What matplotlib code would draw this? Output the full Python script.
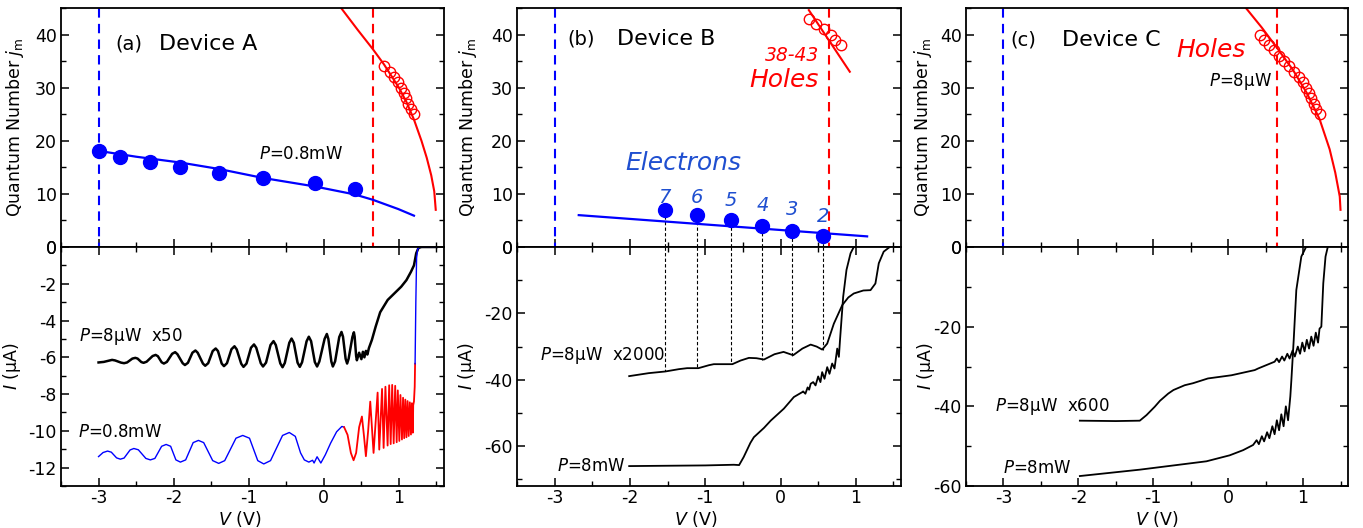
import matplotlib
matplotlib.use("Agg")
import matplotlib.pyplot as plt
from matplotlib.ticker import MultipleLocator

# ---------------- data ----------------
# Panel (a) top
a_dot_v = [-3.00, -2.72, -2.32, -1.92, -1.40, -0.81, -0.12, 0.41]
a_dot_j = [18, 17, 16, 15, 14, 13, 12, 11]
a_hole_v = [0.80, 0.88, 0.94, 0.99, 1.03, 1.07, 1.10, 1.12, 1.16, 1.20]
a_hole_j = [34, 33, 32, 31, 30, 29, 28, 27, 26, 25]
a_efit_v = [-3.0, -2.5, -1.91, -1.4, -0.81, -0.12, 0.41, 0.65, 0.99, 1.2]
a_efit_j = [18.1, 17.0, 15.9, 14.7, 13.0, 11.4, 9.9, 8.9, 7.15, 5.9]
a_hfit_v = [0.23, 0.45, 0.65, 0.80, 1.0, 1.1, 1.2, 1.3, 1.37, 1.43, 1.47, 1.49]
a_hfit_j = [45.0, 40.9, 37.3, 34.4, 30.0, 27.3, 24.0, 20.0, 16.8, 13.5, 10.5, 7.0]
a_vlines = [-3.0, 0.65]

# Panel (a) bottom: P=8uW x50 (black)
a_low_v = [-3.00, -2.93, -2.82, -2.78, -2.70, -2.66, -2.62, -2.55, -2.51, -2.48,
           -2.43, -2.40, -2.36, -2.28, -2.24, -2.21, -2.16, -2.13, -2.09, -2.02,
           -1.98, -1.95, -1.88, -1.85, -1.81, -1.75, -1.71, -1.68, -1.61, -1.58,
           -1.54, -1.48, -1.44, -1.41, -1.36, -1.33, -1.29, -1.23, -1.19, -1.16,
           -1.10, -1.07, -1.03, -0.97, -0.93, -0.90, -0.84, -0.81, -0.77, -0.71,
           -0.67, -0.64, -0.58, -0.55, -0.52, -0.46, -0.43, -0.40, -0.35, -0.32,
           -0.29, -0.23, -0.20, -0.17, -0.12, -0.09, -0.06, 0.01, 0.04, 0.06,
           0.10, 0.12, 0.15, 0.205, 0.235, 0.255, 0.29, 0.31, 0.33, 0.38,
           0.40, 0.41, 0.43, 0.44, 0.47, 0.50, 0.52, 0.54, 0.56, 0.58,
           0.60, 0.64, 0.69, 0.75, 0.85, 0.94, 1.03, 1.10, 1.16, 1.20,
           1.23, 1.26, 1.30, 1.50]
a_low_i = [-6.28, -6.25, -6.14, -6.17, -6.29, -6.32, -6.28, -6.07, -6.03, -6.07,
           -6.26, -6.30, -6.24, -5.93, -5.87, -5.94, -6.27, -6.34, -6.25, -5.81,
           -5.72, -5.83, -6.32, -6.42, -6.30, -5.75, -5.63, -5.75, -6.34, -6.46,
           -6.32, -5.66, -5.52, -5.66, -6.34, -6.48, -6.32, -5.56, -5.40, -5.57,
           -6.35, -6.52, -6.34, -5.48, -5.30, -5.48, -6.32, -6.50, -6.29, -5.33,
           -5.12, -5.33, -6.33, -6.54, -6.31, -5.21, -4.98, -5.21, -6.29, -6.52,
           -6.27, -5.13, -4.88, -5.12, -6.26, -6.50, -6.23, -5.00, -4.73, -5.00,
           -6.23, -6.50, -6.22, -4.90, -4.62, -4.88, -6.08, -6.34, -6.08, -4.90,
           -4.64, -4.87, -5.93, -6.16, -5.75, -6.10, -5.70, -6.00, -5.65, -5.85,
           -5.50, -5.05, -4.33, -3.55, -2.88, -2.52, -2.16, -1.80, -1.35, -1.00,
           -0.34, -0.05, 0.0, 0.0]

# Panel (a) bottom: P=0.8mW (blue / red / blue)
a_high_blue_v = [-3.00, -2.94, -2.88, -2.83, -2.76, -2.71, -2.66, -2.58, -2.53, -2.47,
                 -2.37, -2.31, -2.25, -2.16, -2.10, -2.04, -1.97, -1.91, -1.84, -1.74,
                 -1.67, -1.60, -1.48, -1.40, -1.32, -1.17, -1.08, -0.99, -0.88, -0.80,
                 -0.71, -0.55, -0.46, -0.38, -0.31, -0.26, -0.20, -0.15, -0.13, -0.09,
                 -0.04, 0.02, 0.09, 0.17, 0.24, 0.27]
a_high_blue_i = [-11.40, -11.18, -11.10, -11.16, -11.47, -11.54, -11.48, -11.04, -10.96, -11.03,
                 -11.50, -11.58, -11.50, -10.84, -10.74, -10.84, -11.58, -11.70, -11.58, -10.64,
                 -10.52, -10.64, -11.62, -11.77, -11.62, -10.40, -10.25, -10.40, -11.62, -11.80,
                 -11.62, -10.25, -10.09, -10.30, -11.20, -11.58, -11.70, -11.60, -11.75, -11.41,
                 -11.75, -11.30, -10.67, -10.05, -9.76, -9.80]
a_high_red_v = [0.27, 0.316, 0.36, 0.396, 0.43, 0.47, 0.507, 0.535, 0.56, 0.59,
                0.618, 0.64, 0.662, 0.69, 0.716, 0.738, 0.775, 0.796, 0.82, 0.849,
                0.87, 0.89, 0.91, 0.93, 0.95, 0.97, 0.985, 1.005, 1.02, 1.04,
                1.055, 1.07, 1.085, 1.10, 1.115, 1.13, 1.145, 1.16, 1.172, 1.185,
                1.19, 1.20, 1.21, 1.215]
a_high_red_i = [-9.80, -10.22, -11.2, -11.60, -11.2, -9.8, -9.22, -10.3, -11.38, -10.0,
                -8.41, -9.8, -11.2, -9.5, -7.92, -11.02, -7.72, -10.93, -7.60, -10.80,
                -7.52, -10.72, -7.50, -10.68, -7.55, -10.62, -7.80, -10.55, -8.05, -10.47,
                -8.20, -10.40, -8.30, -10.35, -8.38, -10.28, -8.45, -10.20, -8.50, -10.10,
                -8.60, -8.40, -7.60, -6.35]
a_high_end_v = [1.215, 1.225, 1.235, 1.25, 1.28, 1.50]
a_high_end_i = [-6.35, -3.0, -0.6, -0.1, 0.0, 0.0]

# Panel (b) top
b_dot_v = [-1.54, -1.11, -0.66, -0.24, 0.155, 0.56]
b_dot_j = [7, 6, 5, 4, 3, 2]
b_dot_lbl = ["7", "6", "5", "4", "3", "2"]
b_drop_i = [-37.4, -36.6, -35.2, -33.9, -32.7, -30.9]
b_hole_v = [0.376, 0.465, 0.575, 0.664, 0.73, 0.806]
b_hole_j = [43, 42, 41, 40, 39, 38]
b_efit_v = [-2.68, 1.15]
b_efit_j = [6.0, 2.0]
b_hfit_v = [0.376, 0.92]
b_hfit_j = [44.6, 33.0]
b_vlines = [-3.0, 0.65]

# Panel (b) bottom
b_low_v = [-2.01, -1.75, -1.53, -1.35, -1.24, -1.09, -0.95, -0.886, -0.64, -0.53,
           -0.42, -0.32, -0.22, -0.08, 0.04, 0.168, 0.29, 0.40, 0.48, 0.553,
           0.62, 0.708, 0.82, 0.90, 0.973, 1.10, 1.195, 1.26, 1.305, 1.37, 1.45]
b_low_i = [-38.9, -38.0, -37.5, -36.8, -36.5, -36.5, -35.6, -35.3, -35.3, -34.2,
           -33.4, -33.5, -33.9, -32.3, -31.6, -32.6, -30.6, -29.4, -30.0, -30.9,
           -29.1, -23.1, -17.5, -15.2, -14.0, -13.1, -13.0, -11.0, -4.9, -1.4, 0.0]
b_high_v = [-2.01, -1.0, -0.62, -0.55, -0.49, -0.40, -0.354, -0.22, -0.13, 0.044,
            0.177, 0.29, 0.30, 0.33, 0.36, 0.38, 0.40, 0.434, 0.465, 0.50,
            0.53, 0.553, 0.584, 0.62, 0.65, 0.686, 0.717, 0.753, 0.775, 0.79,
            0.832, 0.876, 0.93, 0.973, 1.0]
b_high_i = [-66.0, -65.8, -65.6, -65.7, -63.3, -59.0, -57.3, -54.5, -52.3, -48.7,
            -45.2, -43.7, -43.5, -44.2, -42.3, -43.0, -41.2, -40.7, -41.7, -39.0,
            -40.7, -37.7, -39.7, -36.2, -38.2, -35.1, -36.6, -30.6, -33.1, -28.0,
            -15.0, -6.9, -1.9, 0.0, 0.0]

# Panel (c) top
c_hole_v = [0.42, 0.48, 0.55, 0.61, 0.68, 0.75, 0.81, 0.88, 0.95, 1.00,
            1.035, 1.08, 1.11, 1.14, 1.17, 1.22]
c_hole_j = [40, 39, 38, 37, 36, 35, 34, 33, 32, 31, 30, 29, 28, 27, 26, 25]
c_hfit_v = [0.22, 0.45, 0.657, 0.867, 1.05, 1.22, 1.355, 1.43, 1.49, 1.50]
c_hfit_j = [45.3, 41.3, 37.4, 33.3, 29.0, 24.1, 18.4, 14.0, 9.5, 7.0]
c_vlines = [-3.0, 0.65]

# Panel (c) bottom
c_low_v = [-1.98, -1.5, -1.18, -1.09, -0.98, -0.91, -0.80, -0.73, -0.58, -0.47,
           -0.27, 0.044, 0.355, 0.40, 0.62, 0.65, 0.68, 0.72, 0.75, 0.79,
           0.82, 0.86, 0.89, 0.93, 0.96, 0.99, 1.02, 1.05, 1.08, 1.11,
           1.14, 1.17, 1.20, 1.22, 1.244, 1.27, 1.30, 1.33]
c_low_i = [-43.6, -43.7, -43.6, -42.2, -40.1, -38.6, -36.8, -35.9, -34.7, -34.2,
           -33.0, -32.2, -30.9, -30.5, -28.8, -28.0, -28.9, -27.5, -28.5, -26.8,
           -28.0, -26.0, -27.5, -25.0, -26.8, -24.0, -26.2, -23.3, -25.5, -22.5,
           -24.8, -21.5, -24.0, -20.5, -20.0, -9.1, -2.4, 0.0]
c_high_v = [-1.98, -1.18, -0.29, 0.02, 0.20, 0.333, 0.38, 0.41, 0.45, 0.48,
            0.52, 0.55, 0.59, 0.62, 0.65, 0.68, 0.71, 0.74, 0.77, 0.80,
            0.83, 0.844, 0.875, 0.91, 0.977, 1.04, 1.06]
c_high_i = [-57.5, -55.9, -53.8, -52.3, -51.0, -49.7, -48.5, -49.5, -47.5, -48.8,
            -46.5, -48.0, -45.0, -47.0, -43.5, -46.0, -42.0, -45.0, -40.0, -43.5,
            -37.5, -33.4, -23.4, -10.8, -2.4, 0.0, 0.0]

# ---------------- style ----------------
plt.rcParams.update({
    "font.family": ["DejaVu Sans"],
    "mathtext.fontset": "dejavusans",
    "axes.unicode_minus": False,
    "font.size": 12.5,
    "axes.linewidth": 1.3,
    "xtick.direction": "in", "ytick.direction": "in",
    "xtick.major.size": 6, "xtick.minor.size": 3.5,
    "ytick.major.size": 6, "ytick.minor.size": 3.5,
    "xtick.major.width": 1.1, "xtick.minor.width": 1.0,
    "ytick.major.width": 1.1, "ytick.minor.width": 1.0,
    "xtick.labelsize": 12.5, "ytick.labelsize": 12.5,
    "xtick.major.pad": 2, "ytick.major.pad": 3,
    "lines.solid_joinstyle": "round",
})

BLUE = "#0000ff"
RED = "#ff0000"
TBLUE = "#1f4fd0"

FS_ANN = 12        # P=... annotations
FS_DEV = 16        # Device X
FS_TAG = 14        # (a) (b) (c)
FS_BIG = 18        # Holes / Electrons
FS_YL = 12.5       # y labels
FS_XL = 12.5       # x labels / current labels

W, H = 1363, 528
fig = plt.figure(figsize=(W / 100, H / 100), dpi=100)


def add_ax(l, r, t, b):
    return fig.add_axes([l / W, 1 - b / H, (r - l) / W, (b - t) / H])


cols = [(61, 444), (517, 901), (966, 1348)]
TOP_T, MID, BOT_B = 8, 247, 486


def style_top(ax):
    ax.set_xlim(-3.5, 1.6)
    ax.set_ylim(0, 45)
    ax.xaxis.set_major_locator(MultipleLocator(1))
    ax.xaxis.set_minor_locator(MultipleLocator(0.5))
    ax.yaxis.set_major_locator(MultipleLocator(10))
    ax.yaxis.set_minor_locator(MultipleLocator(5))
    ax.tick_params(which="both", top=False, bottom=True, left=True, right=True,
                   labelbottom=False)


def style_bot(ax, ylim, major, minor):
    ax.set_xlim(-3.5, 1.6)
    ax.set_ylim(*ylim)
    ax.xaxis.set_major_locator(MultipleLocator(1))
    ax.xaxis.set_minor_locator(MultipleLocator(0.5))
    ax.yaxis.set_major_locator(MultipleLocator(major))
    ax.yaxis.set_minor_locator(MultipleLocator(minor))
    ax.tick_params(which="both", top=True, bottom=True, left=True, right=True)


axes_top, axes_bot = [], []
for (l, r) in cols:
    axes_top.append(add_ax(l, r, TOP_T, MID))
    axes_bot.append(add_ax(l, r, MID, BOT_B))

dash_kw = dict(lw=1.5, dashes=(4.5, 3), clip_on=False)
QN = "Quantum Number $j_{\\mathrm{m}}$"
XL_Y = -0.097

# ---------- (a) ----------
ax = axes_top[0]
style_top(ax)
ax.plot([a_vlines[0]] * 2, [-1, 45], color=BLUE, **dash_kw)
ax.plot([a_vlines[1]] * 2, [-1, 45], color=RED, **dash_kw)
ax.plot(a_efit_v, a_efit_j, color=BLUE, lw=1.6)
ax.plot(a_hfit_v, a_hfit_j, color=RED, lw=1.5)
ax.plot(a_dot_v, a_dot_j, "o", color=BLUE, ms=10, zorder=5)
ax.plot(a_hole_v, a_hole_j, "o", mfc="none", mec=RED, ms=7.5, mew=1.0, zorder=5)
ax.text(-2.77, 38.3, "(a)", fontsize=FS_TAG, ha="left", va="center")
ax.text(-2.20, 38.3, "Device A", fontsize=FS_DEV, ha="left", va="center")
ax.text(-0.87, 17.5, "$P$=0.8mW", fontsize=FS_ANN, ha="left", va="center")
ax.set_ylabel(QN, fontsize=FS_YL)
ax.yaxis.set_label_coords(-0.092, 0.5)

ax = axes_bot[0]
style_bot(ax, (-13, 0), 2, 1)
ax.plot(a_low_v, a_low_i, color="black", lw=1.8)
ax.plot(a_high_blue_v, a_high_blue_i, color=BLUE, lw=1.0)
ax.plot(a_high_red_v, a_high_red_i, color=RED, lw=1.3)
ax.plot(a_high_end_v, a_high_end_i, color=BLUE, lw=1.0)
ax.text(-3.26, -4.87, "$P$=8μW  x50", fontsize=FS_ANN, ha="left", va="center")
ax.text(-3.27, -10.04, "$P$=0.8mW", fontsize=FS_ANN, ha="left", va="center")
ax.set_ylabel("$I$ (μA)", fontsize=FS_XL)
ax.yaxis.set_label_coords(-0.099, 0.5)
ax.set_xlabel("$V$ (V)", fontsize=FS_XL)
ax.xaxis.set_label_coords(0.467, XL_Y)

# ---------- (b) ----------
ax = axes_top[1]
style_top(ax)
ax.plot([b_vlines[0]] * 2, [-1, 45], color=BLUE, **dash_kw)
ax.plot([b_vlines[1]] * 2, [-1, 45], color=RED, **dash_kw)
for v, j in zip(b_dot_v, b_dot_j):
    ax.plot([v, v], [0, j], color="black", lw=0.8, dashes=(3, 2))
ax.plot(b_efit_v, b_efit_j, color=BLUE, lw=1.6)
ax.plot(b_hfit_v, b_hfit_j, color=RED, lw=1.5)
ax.plot(b_dot_v, b_dot_j, "o", color=BLUE, ms=10, zorder=5)
ax.plot(b_hole_v, b_hole_j, "o", mfc="none", mec=RED, ms=7.5, mew=1.0, zorder=5)
lbl_y = [9.4, 9.4, 8.8, 7.9, 7.1, 5.7]
for v, ly, s in zip(b_dot_v, lbl_y, b_dot_lbl):
    ax.text(v, ly, s, color=TBLUE, fontsize=14, style="italic",
            ha="center", va="center")
ax.text(-2.83, 39.1, "(b)", fontsize=FS_TAG, ha="left", va="center")
ax.text(-2.17, 39.1, "Device B", fontsize=FS_DEV, ha="left", va="center")
ax.text(0.52, 36.1, "38-43", color=RED, fontsize=13.5, style="italic",
        ha="right", va="center")
ax.text(0.51, 31.4, "Holes", color=RED, fontsize=FS_BIG, style="italic",
        ha="right", va="center")
ax.text(-2.06, 15.9, "Electrons", color=TBLUE, fontsize=FS_BIG, style="italic",
        ha="left", va="center")
ax.set_ylabel(QN, fontsize=FS_YL)
ax.yaxis.set_label_coords(-0.1, 0.5)

ax = axes_bot[1]
style_bot(ax, (-72, 0), 20, 10)
for v, d in zip(b_dot_v, b_drop_i):
    ax.plot([v, v], [0, d], color="black", lw=0.8, dashes=(3, 2))
ax.plot(b_low_v, b_low_i, color="black", lw=1.3)
ax.plot(b_high_v, b_high_i, color="black", lw=1.3)
ax.text(-3.19, -32.6, "$P$=8μW  x2000", fontsize=FS_ANN, ha="left", va="center")
ax.text(-2.97, -65.9, "$P$=8mW", fontsize=FS_ANN, ha="left", va="center")
ax.set_ylabel("$I$ (μA)", fontsize=FS_XL)
ax.yaxis.set_label_coords(-0.102, 0.5)
ax.set_xlabel("$V$ (V)", fontsize=FS_XL)
ax.xaxis.set_label_coords(0.464, XL_Y)

# ---------- (c) ----------
ax = axes_top[2]
style_top(ax)
ax.plot([c_vlines[0]] * 2, [-1, 45], color=BLUE, **dash_kw)
ax.plot([c_vlines[1]] * 2, [-1, 45], color=RED, **dash_kw)
ax.plot(c_hfit_v, c_hfit_j, color=RED, lw=1.5)
ax.plot(c_hole_v, c_hole_j, "o", mfc="none", mec=RED, ms=7.5, mew=1.0, zorder=5)
ax.text(-2.91, 39.0, "(c)", fontsize=FS_TAG, ha="left", va="center")
ax.text(-2.22, 39.0, "Device C", fontsize=FS_DEV, ha="left", va="center")
ax.text(-0.69, 37.1, "Holes", color=RED, fontsize=FS_BIG, style="italic",
        ha="left", va="center")
ax.text(0.58, 31.1, "$P$=8μW", fontsize=FS_ANN, ha="right", va="center")
ax.set_ylabel(QN, fontsize=FS_YL)
ax.yaxis.set_label_coords(-0.084, 0.5)

ax = axes_bot[2]
style_bot(ax, (-60, 0), 20, 10)
ax.plot(c_low_v, c_low_i, color="black", lw=1.3)
ax.plot(c_high_v, c_high_i, color="black", lw=1.3)
ax.text(-3.11, -40.1, "$P$=8μW  x600", fontsize=FS_ANN, ha="left", va="center")
ax.text(-3.0, -55.6, "$P$=8mW", fontsize=FS_ANN, ha="left", va="center")
ax.set_ylabel("$I$ (μA)", fontsize=FS_XL)
ax.yaxis.set_label_coords(-0.076, 0.5)
ax.set_xlabel("$V$ (V)", fontsize=FS_XL)
ax.xaxis.set_label_coords(0.5, XL_Y)

fig.savefig("out.png", dpi=100)
